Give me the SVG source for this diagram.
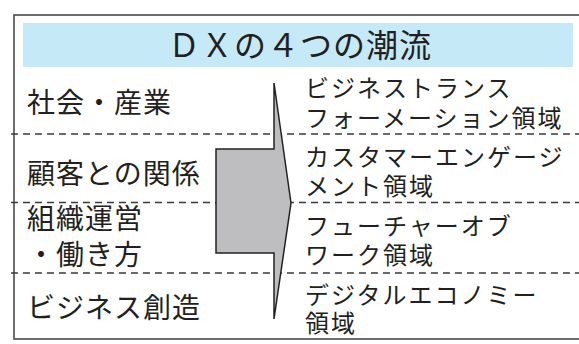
<svg xmlns="http://www.w3.org/2000/svg" width="579" height="344" viewBox="0 0 579 344">
<style>
.t{font-family:"Noto Sans CJK JP","Noto Sans CJK SC",sans-serif;fill:#231f20}
.l{font-size:28px;letter-spacing:1px}
.r{font-size:24px;letter-spacing:2px}
.d{stroke:#3a3a3a;stroke-width:1.3;stroke-dasharray:7 5;fill:none}
</style>
<rect width="579" height="344" fill="#ffffff"/>
<g id="frame">
<rect x="14" y="15" width="600" height="324" fill="none" stroke="#4a4a4a" stroke-width="1.6"/>
</g>
<g id="header">
<rect x="23" y="23" width="550" height="44" fill="#c6e9f8"/>
<text class="t" x="300" y="57" font-size="32" letter-spacing="1" text-anchor="middle">ＤＸの４つの潮流</text>
</g>
<g id="connectors">
<line class="d" x1="11" y1="134" x2="579" y2="134"/>
<line class="d" x1="11" y1="202.5" x2="579" y2="202.5"/>
<line class="d" x1="11" y1="273" x2="579" y2="273"/>
</g>
<g id="arrow">
<polygon points="216,149 274,149 274,83 291,203 274,319 274,253 216,253" fill="#bebec0" stroke="#222" stroke-width="1.5" stroke-linejoin="miter"/>
</g>
<g id="left-labels">
<text class="t l" x="27" y="113">社会・産業</text>
<text class="t l" x="27" y="184">顧客との関係</text>
<text class="t l" x="27" y="229">組織運営<tspan x="27" y="265">・働き方</tspan></text>
<text class="t l" x="27" y="318">ビジネス創造</text>
</g>
<g id="right-labels">
<text class="t r" x="305" y="97">ビジネストランス<tspan x="305" y="127">フォーメーション領域</tspan></text>
<text class="t r" x="305" y="166">カスタマーエンゲージ<tspan x="305" y="195">メント領域</tspan></text>
<text class="t r" x="305" y="235">フューチャーオブ<tspan x="305" y="264">ワーク領域</tspan></text>
<text class="t r" x="305" y="304">デジタルエコノミー<tspan x="305" y="332">領域</tspan></text>
</g>
</svg>
